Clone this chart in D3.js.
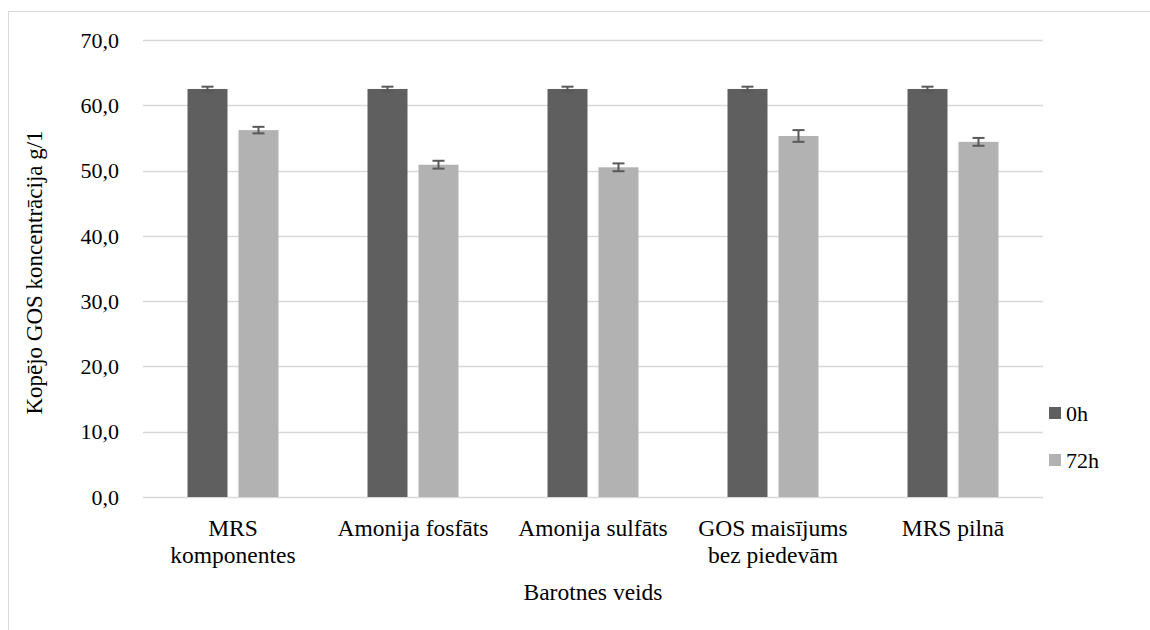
<!DOCTYPE html>
<html><head><meta charset="utf-8">
<script src="https://cdn.jsdelivr.net/npm/d3@7"></script>
<style>body{margin:0;background:#fff}svg{display:block}</style>
</head><body><svg id="c" width="1150" height="630" font-family="'Liberation Serif', 'Times New Roman', Tinos, 'DejaVu Serif', serif"></svg>
<script>
const categories = [["MRS","komponentes"],["Amonija fosfāts"],["Amonija sulfāts"],["GOS maisījums","bez piedevām"],["MRS pilnā"]];
const seriesNames = ["0h","72h"];
const values0h = [62.5, 62.5, 62.5, 62.5, 62.5];
const err0h = [0.35, 0.35, 0.35, 0.35, 0.35];
const values72h = [56.2, 50.9, 50.5, 55.3, 54.4];
const err72h = [0.5, 0.6, 0.6, 0.9, 0.6];
const yTicks = [0,10,20,30,40,50,60,70];
const colors = ["#5f5f5f","#b2b2b2"];

(function(){
const svg = d3.select("#c");
const fs = 22, fs2 = 23.5;
svg.append("rect").attr("x",8.5).attr("y",11.5).attr("width",1200).attr("height",700)
  .attr("fill","none").attr("stroke","#d9d9d9");

const pL=143, pR=1043, pT=40, pB=497;
const y = d3.scaleLinear().domain([0,70]).range([pB,pT]);
const x = d3.scaleBand().domain(d3.range(categories.length)).range([pL,pR]);

svg.append("g").selectAll("line").data(yTicks).join("line")
  .attr("x1",pL).attr("x2",pR).attr("y1",d=>Math.round(y(d))+0.5).attr("y2",d=>Math.round(y(d))+0.5)
  .attr("stroke","#d9d9d9").attr("stroke-width",1.5);
svg.append("g").selectAll("text").data(yTicks).join("text")
  .attr("x",119).attr("y",d=>y(d)).attr("dy","0.35em").attr("text-anchor","end")
  .attr("font-size",fs).text(d=>d3.format(".1f")(d).replace(".",","));

const series = [ {v:values0h,e:err0h}, {v:values72h,e:err72h} ];
const bw = 40, gap = 11;
series.forEach((s,si)=>{
  const g = svg.append("g");
  const bx = i => x(i) + x.bandwidth()/2 + (si===0 ? -gap/2-bw : gap/2);
  g.selectAll("rect").data(s.v).join("rect")
    .attr("x",(d,i)=>bx(i)).attr("width",bw)
    .attr("y",d=>y(d)).attr("height",d=>pB-y(d)).attr("fill",colors[si]);
  const eg = svg.append("g").attr("stroke","#595959").attr("stroke-width",2);
  s.v.forEach((d,i)=>{
    const cx = bx(i)+bw/2, e = s.e[i];
    eg.append("line").attr("x1",cx).attr("x2",cx).attr("y1",y(d+e)).attr("y2",y(d-e));
    eg.append("line").attr("x1",cx-6).attr("x2",cx+6).attr("y1",y(d+e)).attr("y2",y(d+e));
    eg.append("line").attr("x1",cx-6).attr("x2",cx+6).attr("y1",y(d-e)).attr("y2",y(d-e));
  });
});

categories.forEach((lines,i)=>{
  const t = svg.append("text").attr("x",x(i)+x.bandwidth()/2).attr("y",536)
    .attr("text-anchor","middle").attr("font-size",fs2);
  lines.forEach((l,j)=>t.append("tspan").attr("x",x(i)+x.bandwidth()/2).attr("dy",j?"1.15em":0).text(l));
});
svg.append("text").attr("x",(pL+pR)/2).attr("y",600).attr("text-anchor","middle")
  .attr("font-size",fs2).text("Barotnes veids");
svg.append("text").attr("transform",`translate(42,${(pT+pB)/2+4}) rotate(-90)`)
  .attr("text-anchor","middle").attr("font-size",23).text("Kopējo GOS koncentrācija g/1");
seriesNames.forEach((n,i)=>{
  const ly = 413 + i*47;
  svg.append("rect").attr("x",1049).attr("y",ly-6).attr("width",12).attr("height",12).attr("fill",colors[i]);
  svg.append("text").attr("x",1066).attr("y",ly).attr("dy","0.35em").attr("font-size",fs).text(n);
});
})();
</script></body></html>
